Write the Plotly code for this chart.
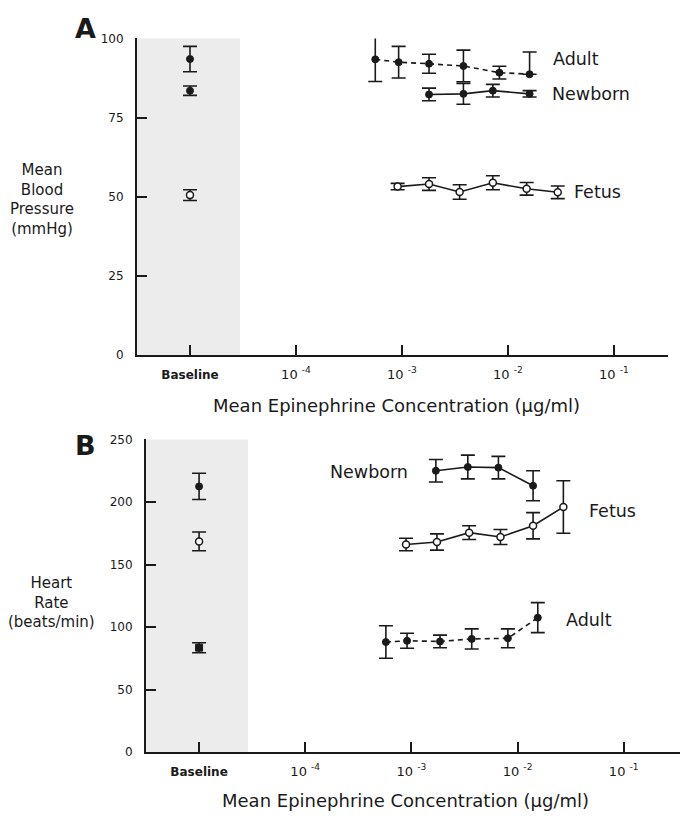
import plotly.graph_objects as go

# ---------------- Data ----------------
# Panel A: Mean blood pressure (mmHg)
a_adult_conc = [5.6e-4, 9.3e-4, 1.8e-3, 3.8e-3, 8.3e-3, 1.6e-2]
a_adult_val = [93.4, 92.5, 92.0, 91.3, 89.2, 88.7]
a_adult_err_up = [7, 5, 3, 5, 2, 7]
a_adult_err_dn = [7, 5, 3, 5, 2, 0]

a_newborn_conc = [1.8e-3, 3.8e-3, 7.2e-3, 1.6e-2]
a_newborn_val = [82.3, 82.5, 83.5, 82.5]
a_newborn_err = [2, 3.3, 2, 1]

a_fetus_conc = [9.1e-4, 1.8e-3, 3.5e-3, 7.2e-3, 1.5e-2, 2.95e-2]
a_fetus_val = [53.2, 54.0, 51.5, 54.4, 52.5, 51.4]
a_fetus_err = [1, 2, 2.3, 2.2, 2, 2]

a_base_val = [93.5, 83.5, 50.5]          # Adult, Newborn, Fetus
a_base_err = [4, 1.5, 1.7]

# Panel B: Heart rate (beats/min)
b_newborn_conc = [1.7e-3, 3.4e-3, 6.6e-3, 1.4e-2]
b_newborn_val = [225, 228, 227.5, 213]
b_newborn_err = [9, 9.5, 9, 12]

b_fetus_conc = [8.9e-4, 1.74e-3, 3.5e-3, 6.9e-3, 1.4e-2, 2.7e-2]
b_fetus_val = [166, 168, 175.5, 172, 181, 196]
b_fetus_err = [5, 6.5, 5.5, 6, 10.5, 21]

b_adult_conc = [5.75e-4, 9.1e-4, 1.86e-3, 3.7e-3, 8.1e-3, 1.55e-2]
b_adult_val = [88, 89, 88.5, 90.5, 91, 107.5]
b_adult_err = [13, 6, 5, 8, 7.5, 12]

b_base_val = [212.5, 168.5, 83.5]        # Newborn, Fetus, Adult
b_base_err = [10.5, 7.5, 4]

baseline_x = 1e-5
tick_vals = [1e-5, 1e-4, 1e-3, 1e-2, 1e-1]
tick_text = ['<span style="font-size:12px"><b>Baseline</b></span>',
             "10 <sup>-4</sup>", "10 <sup>-3</sup>", "10 <sup>-2</sup>", "10 <sup>-1</sup>"]
a_yticks = [0, 25, 50, 75, 100]
b_yticks = [0, 50, 100, 150, 200, 250]

# ---------------- Figure ----------------
W, H = 686, 821
INK = "#1a1a1a"
FONT = "DejaVu Sans"

fig = go.Figure()


def err(arr, arrminus=None, width=7):
    d = dict(type="data", array=arr, color=INK, thickness=1.6, width=width, visible=True)
    if arrminus is not None:
        d["symmetric"] = False
        d["arrayminus"] = arrminus
    return d


filled = dict(symbol="circle", size=7, color=INK, line=dict(color=INK, width=1))
opened = dict(symbol="circle", size=7, color="white", line=dict(color=INK, width=1.5))


def series(x, y, e, marker, dash, xa, ya, eminus=None):
    fig.add_trace(go.Scatter(
        x=x, y=y, mode="lines+markers", marker=marker,
        line=dict(color=INK, width=1.6, dash=dash),
        error_y=err(e, eminus), xaxis=xa, yaxis=ya, showlegend=False,
        hoverinfo="x+y"))


# Panel A
series(a_adult_conc, a_adult_val, a_adult_err_up, filled, "5px,4px", "x", "y", a_adult_err_dn)
series(a_newborn_conc, a_newborn_val, a_newborn_err, filled, "solid", "x", "y")
series(a_fetus_conc, a_fetus_val, a_fetus_err, opened, "solid", "x", "y")
for v, e, m in zip(a_base_val, a_base_err, [filled, filled, opened]):
    fig.add_trace(go.Scatter(x=[baseline_x], y=[v], mode="markers", marker=m,
                             error_y=err([e]), xaxis="x", yaxis="y", showlegend=False))

# Panel B
series(b_newborn_conc, b_newborn_val, b_newborn_err, filled, "solid", "x2", "y2")
series(b_fetus_conc, b_fetus_val, b_fetus_err, opened, "solid", "x2", "y2")
series(b_adult_conc, b_adult_val, b_adult_err, filled, "5px,4px", "x2", "y2")
for v, e, m in zip(b_base_val, b_base_err, [filled, opened, dict(filled, symbol="square")]):
    fig.add_trace(go.Scatter(x=[baseline_x], y=[v], mode="markers", marker=m,
                             error_y=err([e]), xaxis="x2", yaxis="y2", showlegend=False))

xaxis_common = dict(type="log", tickvals=tick_vals, ticktext=tick_text,
                    ticks="inside", ticklen=10, tickwidth=1.5, tickcolor=INK,
                    showline=True, linecolor=INK, linewidth=2, showgrid=False,
                    zeroline=False, ticklabelstandoff=6,
                    tickfont=dict(family=FONT, size=13, color=INK))
yaxis_common = dict(ticks="inside", ticklen=10, tickwidth=1.5, tickcolor=INK,
                    showline=True, linecolor=INK, linewidth=2, showgrid=False,
                    zeroline=False, ticklabelstandoff=9,
                    tickfont=dict(family=FONT, size=12, color=INK))

fig.update_layout(
    width=W, height=H, margin=dict(l=0, r=0, t=0, b=0),
    paper_bgcolor="white", plot_bgcolor="white", showlegend=False,
    font=dict(family=FONT, color=INK),
    xaxis=dict(xaxis_common, domain=[137 / W, 668 / W], range=[-5.5, -0.49], anchor="y"),
    yaxis=dict(yaxis_common, domain=[1 - 354 / H, 1 - 32 / H], range=[0, 100],
               tickvals=a_yticks, anchor="x"),
    xaxis2=dict(xaxis_common, domain=[146 / W, 680 / W], range=[-5.5, -0.47], anchor="y2"),
    yaxis2=dict(yaxis_common, domain=[1 - 758 / H, 1 - 440 / H], range=[0, 250],
                tickvals=b_yticks, anchor="x2"),
)

# Shaded baseline region
fig.add_shape(type="rect", xref="x domain", yref="y domain", x0=0, x1=0.194, y0=0, y1=1,
              fillcolor="#ececec", line_width=0, layer="below")
fig.add_shape(type="rect", xref="x2 domain", yref="y2 domain", x0=0, x1=0.191, y0=0, y1=1,
              fillcolor="#ececec", line_width=0, layer="below")


def ann(text, px, py, size=17, xanchor="left", bold=False, align="left"):
    fig.add_annotation(text=f"<b>{text}</b>" if bold else text,
                       x=px / W, y=1 - py / H, xref="paper", yref="paper",
                       showarrow=False, xanchor=xanchor, yanchor="middle", align=align,
                       font=dict(family=FONT, size=size, color=INK))


# Series labels
ann("Adult", 551, 53, size=17.5)
ann("Newborn", 550, 89, size=17.5)
ann("Fetus", 572, 188, size=17.5)
ann("Newborn", 328, 473, size=17.5)
ann("Fetus", 587, 513, size=17.5)
ann("Adult", 564, 624, size=17.5)

# Panel letters
ann("A", 85, 22, size=27, xanchor="center", bold=True)
ann("B", 85, 446, size=27, xanchor="center", bold=True)

# Axis titles
ann("Mean<br>Blood<br>Pressure<br>(mmHg)", 42, 196, size=15, xanchor="center", align="center")
ann("Heart<br>Rate<br>(beats/min)", 51, 606, size=15, xanchor="center", align="center")
ann("Mean Epinephrine Concentration (µg/ml)", 396, 405, size=18, xanchor="center")
ann("Mean Epinephrine Concentration (µg/ml)", 405, 807, size=18, xanchor="center")

fig.write_html("out.html")
